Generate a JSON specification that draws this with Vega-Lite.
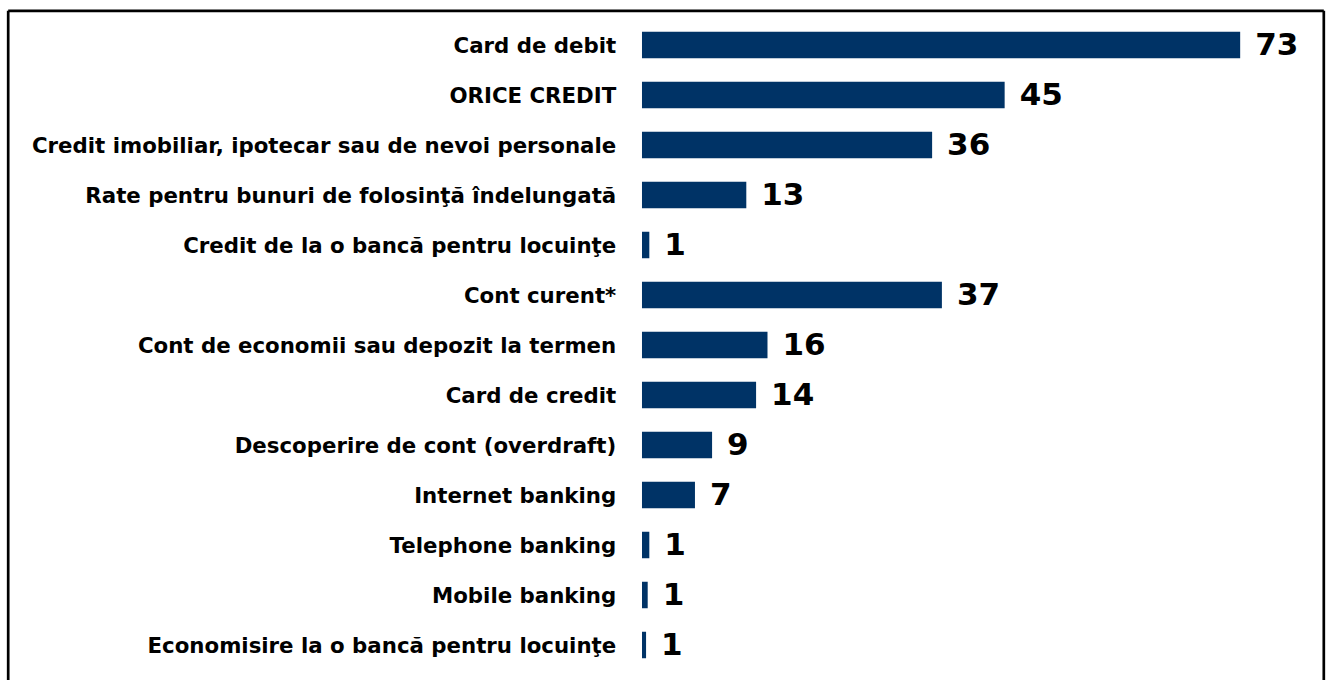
{
  "$schema": "https://vega.github.io/schema/vega-lite/v6.json",
  "autosize": {"type": "none"},
  "padding": {"left": 7.7, "top": 10.3, "right": 2.7, "bottom": 0.3},
  "width": 1315.6,
  "height": 669.4,
  "background": "white",
  "config": {"view": {"stroke": null}},
  "data": {
    "values": [
      {"item": "Card de debit", "share": 73.4, "label": "73"},
      {"item": "ORICE CREDIT", "share": 44.5, "label": "45"},
      {"item": "Credit imobiliar, ipotecar sau de nevoi personale", "share": 35.6, "label": "36"},
      {"item": "Rate pentru bunuri de folosinţă îndelungată", "share": 12.8, "label": "13"},
      {"item": "Credit de la o bancă pentru locuinţe", "share": 0.9, "label": "1"},
      {"item": "Cont curent*", "share": 36.8, "label": "37"},
      {"item": "Cont de economii sau depozit la termen", "share": 15.4, "label": "16"},
      {"item": "Card de credit", "share": 14.0, "label": "14"},
      {"item": "Descoperire de cont (overdraft)", "share": 8.6, "label": "9"},
      {"item": "Internet banking", "share": 6.5, "label": "7"},
      {"item": "Telephone banking", "share": 0.9, "label": "1"},
      {"item": "Mobile banking", "share": 0.7, "label": "1"},
      {"item": "Economisire la o bancă pentru locuinţe", "share": 0.5, "label": "1"}
    ]
  },
  "encoding": {
    "x": {
      "field": "share", "type": "quantitative",
      "scale": {"domain": [-77.83, 83.6], "nice": false, "zero": false},
      "axis": {
        "orient": "top", "title": null, "labels": false, "ticks": false,
        "grid": false, "domain": true, "domainColor": "black", "domainWidth": 2.7
      }
    }
  },
  "layer": [
    {
      "mark": {"type": "bar", "color": "#003366"},
      "encoding": {
        "y": {
          "field": "item", "type": "nominal", "sort": null,
          "scale": {"paddingInner": 0.47, "paddingOuter": 0.429},
          "axis": {
            "orient": "left", "title": null, "ticks": false, "tickSize": 0,
            "domain": true, "domainColor": "black", "domainWidth": 2.7,
            "labelPadding": -608, "labelAlign": "right", "labelBaseline": "middle",
            "labelOffset": 1.5,
            "labelFont": "DejaVu Sans", "labelFontWeight": "bold",
            "labelFontSize": 21.3, "labelColor": "black", "labelLimit": 800,
            "labelOverlap": false, "grid": false
          }
        },
        "x2": {"datum": 0}
      }
    },
    {
      "mark": {
        "type": "text", "align": "left", "baseline": "middle", "dx": 15, "dy": 1,
        "font": "DejaVu Sans", "fontWeight": "bold", "fontSize": 31, "color": "black"
      },
      "encoding": {
        "y": {
          "field": "item", "type": "nominal", "sort": null,
          "axis": {
            "orient": "right", "title": null, "labels": false, "ticks": false,
            "grid": false, "domain": true, "domainColor": "black", "domainWidth": 2.7
          }
        },
        "text": {"field": "label"}
      }
    }
  ],
  "resolve": {"axis": {"y": "independent"}}
}
